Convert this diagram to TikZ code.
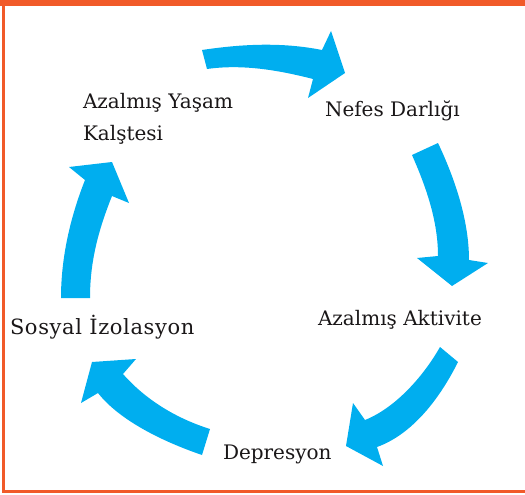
\documentclass[tikz,border=0pt]{standalone}
\usepackage{fontspec}
\setmainfont{DejaVu Serif}
\definecolor{frameorange}{HTML}{F15A29}
\definecolor{arrowcyan}{HTML}{00AEEF}
\definecolor{txt}{HTML}{1A1718}
\begin{document}
\begin{tikzpicture}[x=1pt,y=-1pt,
  lbl/.style={inner sep=0pt,outer sep=0pt,text=txt,font=\fontsize{20}{32}\selectfont,anchor=base west},
  widelbl/.style={lbl,font=\fontsize{21}{32}\selectfont\addfontfeature{LetterSpace=3}},
  bigarrow/.style={fill=arrowcyan,draw=none}]
\useasboundingbox (0,0) rectangle (525,495);
% frame
\fill[frameorange] (0,0) rectangle (525,6);
\fill[frameorange] (2,0) rectangle (5,493);
\fill[frameorange] (2,490) rectangle (525,493);
% labels
\node[lbl,align=left] (life) at (83,140) {Azalmış Yaşam\\Kalştesi};
\node[lbl] (breath) at (325,117) {Nefes Darlığı};
\node[lbl] (activity) at (318,325) {Azalmış Aktivite};
\node[lbl] (depr) at (223,459) {Depresyon};
\node[widelbl] (isol) at (10,334) {Sosyal İzolasyon};
% arrows
\fill[bigarrow] (202,50) .. controls (242,44) and (282,42) .. (322,50) -- (331,31) -- (345,73) -- (308,98) -- (313,79) .. controls (278,70) and (242,64) .. (207,69) -- cycle;
\fill[bigarrow] (412,155) -- (438,143) .. controls (456,181) and (469,222) .. (469,260) -- (488,263) -- (452,286) -- (417,258) -- (438,256) .. controls (438,222) and (427,189) .. (412,155) -- cycle;
\fill[bigarrow] (440,347) -- (458,362) .. controls (440,398) and (413,434) .. (377,447) -- (383,466) -- (346,446) -- (353,403) -- (365,420) .. controls (395,408) and (423,377) .. (440,347) -- cycle;
\fill[bigarrow] (210,429) .. controls (175,418) and (145,399) .. (123,374) -- (136,359) -- (92,362) -- (81,403) -- (98,393) .. controls (120,421) and (164,442) .. (202,455) -- cycle;
\fill[bigarrow] (61,298) .. controls (61,258) and (70,218) .. (85,180) -- (69,167) -- (112,162) -- (129,203) -- (112,196) .. controls (98,231) and (90,262) .. (90,298) -- cycle;
\end{tikzpicture}
\end{document}
